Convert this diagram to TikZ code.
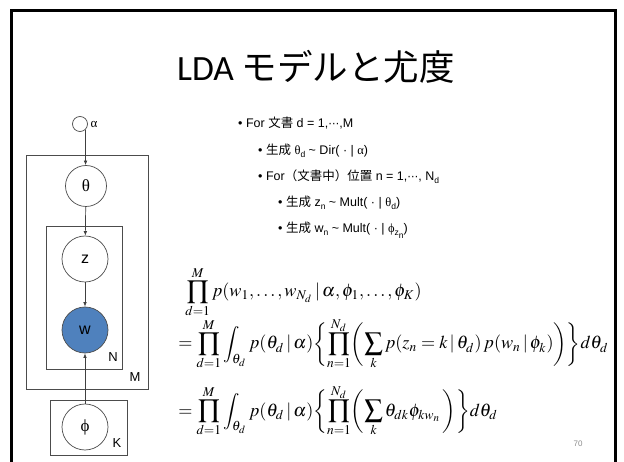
\documentclass[tikz,border=0pt]{standalone}
\usepackage{mathptmx}
\usepackage[no-math]{fontspec}
\setmainfont{Liberation Sans}
\newfontfamily\jp{Noto Sans CJK JP}
\newfontfamily\ttl{Carlito}
\newfontfamily\grk{Liberation Serif}
\newfontfamily\dv{DejaVu Sans}
\usetikzlibrary{arrows.meta}
\newcommand\J[1]{{\jp #1}}
\newcommand\G[1]{{\grk #1}}
\newcommand\cdts{{\dv\fontsize{11}{11}\selectfont ⋯}}
\newcommand\sbs[1]{\raisebox{-2.6pt}{\fontsize{8.5}{8.5}\selectfont #1}}
\newsavebox\eqA
\newsavebox\eqB
\newsavebox\eqC
\tikzset{
  rv/.style={circle, draw=black!70, line width=0.7pt, inner sep=0pt, minimum size=46pt},
  plate/.style={draw=black!70, line width=0.8pt, inner sep=0pt},
  arr/.style={draw=black!75, line width=0.7pt, -{Latex[length=4.5pt,width=3.6pt]}},
  body/.style={anchor=base west, inner sep=0pt, font=\fontsize{12.5}{14}\selectfont},
  platelbl/.style={font=\fontsize{13}{13}\selectfont, inner sep=0pt},
  eqn/.style={anchor=base west, inner sep=0pt, scale=\eqs},
}
\begin{document}
\begin{tikzpicture}[x=1pt,y=-1pt]
\sbox\eqA{\fontsize{10}{12}\selectfont$\displaystyle \prod_{d=1}^{M} p(w_1,\ldots,w_{N_d}\,|\,\alpha,\phi_1,\ldots,\phi_K)$}
\sbox\eqB{\fontsize{10}{12}\selectfont$\displaystyle =\prod_{d=1}^{M}\int_{\theta_d} p(\theta_d\,|\,\alpha)\biggl\{\prod_{n=1}^{N_d}\biggl(\sum_{k} p(z_n=k\,|\,\theta_d)\,p(w_n\,|\,\phi_k)\biggr)\biggr\}d\theta_d$}
\sbox\eqC{\fontsize{10}{12}\selectfont$\displaystyle =\prod_{d=1}^{M}\int_{\theta_d} p(\theta_d\,|\,\alpha)\biggl\{\prod_{n=1}^{N_d}\biggl(\sum_{k} \theta_{dk}\phi_{kw_n}\,\biggr)\biggr\}d\theta_d$}
\pgfmathsetmacro\eqs{430/\the\wd\eqB}
\fill[white] (0,0) rectangle (624,462);
\useasboundingbox (0,0) rectangle (624,462);
% slide frame
\draw[line width=3pt, black, line join=miter] (11,462) -- (11,11) -- (615,11) -- (615,462);
% title
\node[inner sep=0pt] (title) at (316,67) {\fontsize{35.5}{35.5}\selectfont\ttl LDA \J{モデルと尤度}};
% plates
\node[plate, minimum width=122pt, minimum height=234pt] (plM) at (87,272) {};
\node[plate, minimum width=76pt, minimum height=143pt] (plN) at (84,297.5) {};
\node[plate, minimum width=77pt, minimum height=55pt] (plK) at (88.5,427.5) {};
\node[platelbl] (lM) at (135,377) {M};
\node[platelbl] (lN) at (113,357) {N};
\node[platelbl] (lK) at (117,443) {K};
% variables
\node[rv, minimum size=15pt] (alpha) at (80,124) {};
\node[inner sep=0pt, font=\fontsize{13}{13}\selectfont\grk] (alab) at (94,124) {α};
\node[rv, minimum size=41pt, font=\fontsize{17}{17}\selectfont\grk] (theta) at (86,186) {θ};
\node[rv, font=\fontsize{16}{16}\selectfont] (z) at (85,259) {z};
\node[rv, fill={rgb,255:red,79;green,129;blue,189}, font=\fontsize{16}{16}\selectfont] (w) at (85,330) {w};
\node[rv, font=\fontsize{17}{17}\selectfont\grk] (phi) at (85,427) {ϕ};
% edges
\draw[arr] (alpha.-45) -- (alpha.-45 |- theta.north);
\draw[arr] (theta) -- (z);
\draw[arr] (z) -- (w);
\draw[arr] (phi) -- (w);
% generative process
\node[body] (l1) at (238,128) {• For \J{文書} d = 1,\cdts,M};
\node[body] (l2) at (258,155) {• \J{生成} \G{θ}\sbs{d} \textasciitilde{} Dir( · | \G{α})};
\node[body] (l3) at (258,181) {• For\J{（文書中）位置} n = 1,\cdts, N\sbs{d}};
\node[body] (l4) at (278,207) {• \J{生成} z\sbs{n} \textasciitilde{} Mult( · | \G{θ}\sbs{d})};
\node[body] (l5) at (278,233) {• \J{生成} w\sbs{n} \textasciitilde{} Mult( · | \G{ϕ}\sbs{z\sbs{n}})};
% equations
\node[eqn] (e1) at (185,297) {\usebox\eqA};
\node[eqn] (e2) at (178,349) {\usebox\eqB};
\node[eqn] (e3) at (178,416) {\usebox\eqC};
% page number
\node[inner sep=0pt, font=\fontsize{8}{8}\selectfont, text=black!45] (pg) at (578,444) {70};
\end{tikzpicture}
\end{document}
